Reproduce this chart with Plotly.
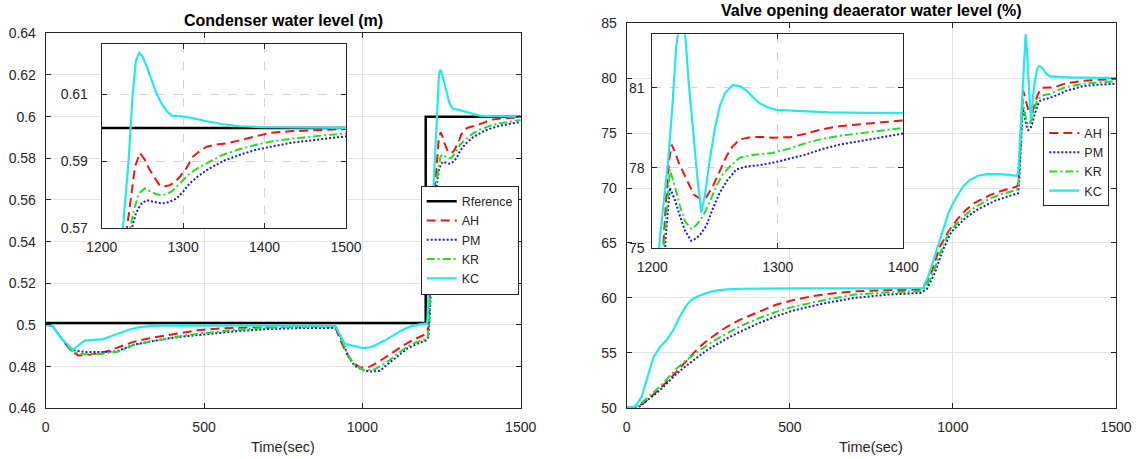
import plotly.graph_objects as go

# ---------------- DATA ----------------
# Condenser water level (m)
ref_t = [0, 1200, 1200, 1500]
ref_level = [0.501, 0.501, 0.6, 0.6]

cond_t_ah = [0, 20, 50, 80, 103, 125, 151, 180, 203, 240, 277, 330, 382, 430, 487, 550, 600, 700, 800, 900,
             913, 930, 950, 970, 992, 1010, 1024, 1050, 1077, 1105, 1130, 1160, 1193, 1203, 1209, 1215, 1220,
             1226, 1231, 1236, 1241, 1247, 1253, 1259, 1265, 1271, 1278, 1284, 1290, 1296, 1304, 1312, 1320,
             1329, 1340, 1353, 1368, 1382, 1406, 1431, 1465, 1500]
cond_ah = [0.5, 0.4998, 0.4935, 0.4875, 0.4854, 0.4855, 0.486, 0.4868, 0.4878, 0.4898, 0.4919, 0.4937, 0.4951,
           0.4964, 0.4976, 0.4983, 0.4987, 0.4992, 0.4995, 0.4996,
           0.4994, 0.493, 0.4862, 0.482, 0.4797, 0.4796, 0.48, 0.4822, 0.485, 0.4878, 0.4902, 0.4928, 0.4951,
           0.4965, 0.499, 0.52, 0.54, 0.558, 0.57, 0.58, 0.5885, 0.5925, 0.5905, 0.5874, 0.585, 0.5829, 0.5826,
           0.5829, 0.5838, 0.5854, 0.588, 0.5914, 0.593, 0.5944, 0.595, 0.5954, 0.5962, 0.597, 0.5985, 0.599,
           0.5994, 0.5997]

cond_t_pm = [0, 20, 50, 80, 98, 130, 172, 224, 250, 277, 330, 382, 430, 487, 550, 600, 698, 800, 900,
             918, 935, 955, 975, 1003, 1024, 1056, 1077, 1110, 1140, 1170, 1200, 1208, 1213, 1219, 1226, 1232,
             1237, 1242, 1248, 1255, 1262, 1268, 1274, 1282, 1292, 1300, 1308, 1318, 1329, 1349, 1370, 1390,
             1410, 1431, 1465, 1500]
cond_pm = [0.5, 0.4998, 0.4935, 0.488, 0.4876, 0.487, 0.487, 0.4873, 0.4888, 0.4905, 0.492, 0.4935, 0.4944,
           0.4951, 0.4962, 0.497, 0.498, 0.4985, 0.4988,
           0.4985, 0.4928, 0.4852, 0.4805, 0.4783, 0.4776, 0.478, 0.4808, 0.485, 0.4885, 0.4908, 0.4925, 0.494,
           0.505, 0.525, 0.548, 0.562, 0.57, 0.5745, 0.5772, 0.5784, 0.578, 0.5776, 0.5774, 0.5778, 0.5789,
           0.581, 0.5834, 0.5855, 0.5874, 0.5901, 0.592, 0.5935, 0.5945, 0.5955, 0.5965, 0.5975]

cond_t_kr = [0, 20, 50, 80, 103, 130, 172, 200, 224, 250, 277, 330, 382, 430, 487, 550, 600, 698, 800, 900,
             918, 935, 955, 975, 1003, 1035, 1055, 1077, 1110, 1140, 1170, 1200, 1207, 1212, 1218, 1224, 1230,
             1235, 1240, 1246, 1253, 1260, 1267, 1274, 1281, 1288, 1298, 1308, 1318, 1329, 1349, 1370, 1390,
             1410, 1431, 1465, 1500]
cond_kr = [0.5, 0.4998, 0.4935, 0.4878, 0.4862, 0.486, 0.4861, 0.4864, 0.487, 0.4885, 0.4903, 0.492, 0.4935,
           0.4947, 0.4959, 0.497, 0.4976, 0.4987, 0.499, 0.4992,
           0.4988, 0.493, 0.4855, 0.481, 0.4784, 0.4785, 0.48, 0.482, 0.486, 0.4894, 0.4917, 0.4932, 0.4945,
           0.505, 0.525, 0.545, 0.56, 0.57, 0.576, 0.5805, 0.5819, 0.581, 0.5802, 0.5799, 0.5803, 0.5814,
           0.5838, 0.5864, 0.588, 0.5895, 0.592, 0.5937, 0.595, 0.596, 0.5967, 0.5976, 0.5984]

cond_t_kc = [0, 20, 50, 87, 105, 124, 150, 182, 210, 235, 265, 298, 340, 400, 500, 700, 900,
             915, 930, 945, 961, 980, 1003, 1025, 1045, 1070, 1098, 1125, 1151, 1180, 1205, 1210, 1215, 1220,
             1226, 1233, 1238, 1242, 1246, 1250, 1255, 1261, 1267, 1274, 1280, 1286, 1298, 1310, 1320, 1329,
             1349, 1370, 1400, 1450, 1500]
cond_kc = [0.5, 0.4998, 0.4935, 0.4881, 0.4905, 0.4925, 0.4928, 0.4932, 0.4948, 0.496, 0.4978, 0.499, 0.4996,
           0.4998, 0.4998, 0.4998, 0.4998,
           0.4995, 0.495, 0.491, 0.4903, 0.4898, 0.4889, 0.4893, 0.4905, 0.4925, 0.4951, 0.4975, 0.4992,
           0.5003, 0.5008, 0.52, 0.54, 0.555, 0.57, 0.59, 0.61, 0.62, 0.6225, 0.6215, 0.6185, 0.6145, 0.6105,
           0.607, 0.605, 0.6037, 0.6035, 0.603, 0.6024, 0.602, 0.6011, 0.6005, 0.6002, 0.6, 0.6]

# Valve opening deaerator water level (%)
dea_t_ah = [0, 20, 31, 51, 75, 102, 128, 153, 180, 204, 230, 255, 280, 307, 350, 409, 460, 511, 560, 613, 700,
            800, 900, 915, 935, 960, 985, 1012, 1040, 1063, 1090, 1114, 1150, 1195, 1200, 1204, 1208, 1211,
            1213.5, 1215.4, 1218, 1221, 1227, 1233, 1239, 1243, 1248.4, 1254, 1259, 1264, 1269.6, 1277, 1286,
            1296, 1310, 1322, 1336, 1349, 1375, 1399, 1450, 1500]
dea_ah = [50, 50, 50.05, 50.4, 51.0, 51.75, 52.5, 53.27, 54.15, 54.95, 55.7, 56.3, 56.85, 57.37, 58.05, 58.8,
          59.4, 59.8, 60.1, 60.35, 60.6, 60.7, 60.75, 61.2, 62.4, 64.66, 66.0, 67.1, 68.0, 68.6, 69.0, 69.36,
          69.75, 70.12, 70.3, 72.0, 74.5, 76.8, 78.3, 78.87, 78.6, 78.2, 77.57, 77.0, 76.82, 76.9, 77.32, 77.9,
          78.43, 78.8, 79.06, 79.14, 79.16, 79.13, 79.15, 79.28, 79.45, 79.56, 79.66, 79.77, 79.86, 79.92]

dea_t_pm = [0, 25, 40, 51, 75, 102, 128, 153, 180, 204, 230, 255, 280, 307, 350, 409, 460, 511, 560, 613, 700,
            800, 900, 920, 945, 970, 995, 1012, 1040, 1073, 1100, 1130, 1170, 1200, 1204, 1208, 1211, 1214,
            1218, 1222, 1226, 1231, 1235, 1239, 1243, 1248, 1253.7, 1260, 1267, 1275, 1285, 1296, 1310, 1322.5,
            1335, 1349, 1375, 1399, 1450, 1500]
dea_pm = [50, 50, 50.1, 50.4, 50.95, 51.6, 52.35, 53.1, 53.75, 54.33, 54.9, 55.4, 55.85, 56.3, 56.95, 57.75,
          58.35, 58.85, 59.2, 59.55, 60.0, 60.3, 60.45, 60.8, 62.3, 64.4, 66.0, 66.48, 67.3, 68.0, 68.4, 68.85,
          69.25, 69.52, 71.0, 73.5, 75.6, 77.26, 76.8, 76.2, 75.65, 75.27, 75.36, 75.55, 75.83, 76.45, 77.07,
          77.55, 77.94, 78.05, 78.1, 78.19, 78.35, 78.5, 78.7, 78.87, 79.08, 79.28, 79.42, 79.5]

dea_t_kr = [0, 20, 35, 51, 75, 102, 128, 153, 180, 204, 230, 255, 280, 307, 350, 409, 460, 511, 560, 613, 700,
            800, 900, 918, 940, 965, 990, 1012, 1040, 1063, 1090, 1114, 1150, 1195, 1200, 1204, 1208, 1211,
            1214, 1218, 1222, 1226, 1231, 1235, 1240.5, 1246, 1251, 1256, 1262, 1269.6, 1280, 1296, 1310,
            1322.5, 1335, 1349, 1375, 1399, 1450, 1500]
dea_kr = [50, 50, 50.15, 50.54, 51.2, 51.9, 52.75, 53.58, 54.25, 54.8, 55.35, 55.86, 56.3, 56.77, 57.45, 58.2,
          58.75, 59.2, 59.5, 59.85, 60.3, 60.5, 60.62, 61.0, 62.3, 64.4, 66.1, 66.8, 67.6, 68.15, 68.65, 69.06,
          69.45, 69.82, 70.0, 71.8, 74.2, 76.3, 77.94, 77.3, 76.58, 76.0, 75.72, 75.85, 76.2, 76.75, 77.32,
          77.75, 78.06, 78.38, 78.48, 78.56, 78.73, 78.93, 79.08, 79.2, 79.36, 79.49, 79.62, 79.72]

dea_t_kc = [0, 15, 25, 35, 46, 56, 66, 82, 102, 123, 143, 163, 184, 200, 215, 235, 255, 280, 307, 350, 400,
            500, 700, 880, 909, 925, 940, 950, 960, 973, 986, 1000, 1012, 1030, 1052, 1075, 1104, 1144, 1170,
            1195, 1200, 1203, 1206, 1209.5, 1212.7, 1216, 1219, 1223, 1226.5, 1229, 1232.5, 1236, 1239, 1242,
            1245.8, 1250, 1253.7, 1258, 1264, 1270, 1275, 1280, 1285.5, 1292, 1298.7, 1320, 1341, 1370, 1399,
            1450, 1500]
dea_kc = [50, 50.02, 50.1, 50.5, 51.0, 52.0, 53.1, 54.6, 55.5, 56.2, 57.07, 58.3, 59.35, 59.85, 60.1, 60.35,
          60.55, 60.68, 60.77, 60.83, 60.85, 60.87, 60.87, 60.88, 60.9, 62.0, 63.44, 64.4, 65.26, 66.6, 67.7,
          68.6, 69.2, 70.1, 70.73, 71.1, 71.27, 71.27, 71.2, 71.12, 71.3, 73.0, 75.34, 76.8, 78.3, 80.3, 82.5,
          84.0, 82.8, 81.2, 79.3, 77.6, 76.33, 77.0, 78.3, 79.5, 80.3, 80.8, 81.1, 81.05, 80.9, 80.65, 80.42,
          80.27, 80.17, 80.12, 80.08, 80.06, 80.05, 80.02, 80.0]

# tick labels
cond_main_yticks = [0.46, 0.48, 0.5, 0.52, 0.54, 0.56, 0.58, 0.6, 0.62, 0.64]
cond_main_ylabels = ["0.46", "0.48", "0.5", "0.52", "0.54", "0.56", "0.58", "0.6", "0.62", "0.64"]
cond_inset_yticks = [0.57, 0.59, 0.61]
cond_inset_xticks = [1200, 1300, 1400, 1500]
dea_main_yticks = [50, 55, 60, 65, 70, 75, 80, 85]
dea_inset_yticks = [75, 78, 81]
dea_inset_xticks = [1200, 1300, 1400]
main_xticks = [0, 500, 1000, 1500]

# ---------------- STYLE ----------------
W, H = 1139, 459
FONT = "Liberation Sans, Arial, sans-serif"
TXT = "#262626"
series_style = {
    "AH": dict(color="#f01414", dash="9px,5px", width=2),
    "PM": dict(color="#1a1ad0", dash="2px,2px", width=2),
    "KR": dict(color="#22dd22", dash="8px,3px,2px,3px", width=2),
    "KC": dict(color="#22eaea", dash="solid", width=2.2),
}


def px(x):
    return x / W


def py(y):
    return 1 - y / H


fig = go.Figure()

cond_series = [("AH", cond_t_ah, cond_ah), ("PM", cond_t_pm, cond_pm),
               ("KR", cond_t_kr, cond_kr), ("KC", cond_t_kc, cond_kc)]
dea_series = [("AH", dea_t_ah, dea_ah), ("PM", dea_t_pm, dea_pm),
              ("KR", dea_t_kr, dea_kr), ("KC", dea_t_kc, dea_kc)]

# left main
fig.add_trace(go.Scatter(x=ref_t, y=ref_level, mode="lines", name="Rference",
                         line=dict(color="black", width=2.5), xaxis="x", yaxis="y", legend="legend"))
for name, t, v in cond_series:
    fig.add_trace(go.Scatter(x=t, y=v, mode="lines", name=name, line=series_style[name],
                             xaxis="x", yaxis="y", legend="legend"))
# left inset (reference after the step only)
fig.add_trace(go.Scatter(x=ref_t[2:], y=ref_level[2:], mode="lines", showlegend=False,
                         line=dict(color="black", width=2.5), xaxis="x2", yaxis="y2"))
for name, t, v in cond_series:
    fig.add_trace(go.Scatter(x=t, y=v, mode="lines", showlegend=False, line=series_style[name],
                             xaxis="x2", yaxis="y2"))
# right main
for name, t, v in dea_series:
    fig.add_trace(go.Scatter(x=t, y=v, mode="lines", name=name, line=series_style[name],
                             xaxis="x3", yaxis="y3", legend="legend2"))
# right inset
for name, t, v in dea_series:
    fig.add_trace(go.Scatter(x=t, y=v, mode="lines", showlegend=False, line=series_style[name],
                             xaxis="x4", yaxis="y4"))


def ax(domain, rng, ticks, anchor, grid_dash="solid", gridcolor="#e3e3e3", standoff=6, labels=None):
    d = dict(domain=domain, range=rng, tickvals=ticks, anchor=anchor, automargin=False,
             showline=True, linecolor=TXT, linewidth=1, mirror="ticks",
             ticks="inside", ticklen=5, tickcolor=TXT, tickwidth=1,
             showgrid=True, gridcolor=gridcolor, gridwidth=1, griddash=grid_dash,
             zeroline=False, tickfont=dict(family=FONT, size=14, color=TXT),
             ticklabelstandoff=standoff, fixedrange=True)
    if labels:
        d["ticktext"] = labels
    return d


# domains (pixel geometry)
L_main_x = [px(45.7), px(520.7)]
L_main_y = [py(408.3), py(33.3)]
L_ins_x = [px(101.7), px(346)]
L_ins_y = [py(228.3), py(44.3)]
R_main_x = [px(626.7), px(1116)]
R_main_y = [py(407.7), py(23.3)]
R_ins_x = [px(652.3), px(903.3)]
R_ins_y = [py(248.0), py(34.3)]

legend_common = dict(xanchor="left", yanchor="top", bgcolor="white", bordercolor=TXT, borderwidth=1,
                     font=dict(family=FONT, size=12.5, color=TXT), tracegroupgap=0, itemwidth=30)

fig.update_layout(
    template="none",
    width=W, height=H, margin=dict(l=0, r=0, t=0, b=0, autoexpand=False),
    paper_bgcolor="white", plot_bgcolor="white",
    font=dict(family=FONT, color=TXT),
    xaxis=ax(L_main_x, [0, 1500], main_xticks, "y"),
    yaxis=ax(L_main_y, [0.46, 0.64], cond_main_yticks, "x", labels=cond_main_ylabels),
    xaxis2=ax(L_ins_x, [1200, 1500], cond_inset_xticks, "y2", grid_dash="dash", gridcolor="#d4d4d4"),
    yaxis2=ax(L_ins_y, [0.57, 0.625], cond_inset_yticks, "x2", grid_dash="dash", gridcolor="#d4d4d4", standoff=10),
    xaxis3=ax(R_main_x, [0, 1500], main_xticks, "y3"),
    yaxis3=ax(R_main_y, [50, 85], dea_main_yticks, "x3"),
    xaxis4=ax(R_ins_x, [1200, 1400], dea_inset_xticks, "y4", grid_dash="dash", gridcolor="#d4d4d4"),
    yaxis4=ax(R_ins_y, [75, 83], dea_inset_yticks, "x4", grid_dash="dash", gridcolor="#d4d4d4", standoff=4),
    legend=dict(x=px(420.7), y=py(185.7), **legend_common),
    legend2=dict(x=px(1043.3), y=py(117.3), **legend_common),
    annotations=[
        dict(text="<b>Condenser water level (m)</b>", x=px(283), y=py(21), xref="paper", yref="paper",
             showarrow=False, xanchor="center", yanchor="middle", font=dict(family=FONT, size=16, color="black")),
        dict(text="<b>Valve opening deaerator water level (%)</b>", x=px(871.3), y=py(11), xref="paper",
             yref="paper", showarrow=False, xanchor="center", yanchor="middle",
             font=dict(family=FONT, size=16, color="black")),
        dict(text="Time(sec)", x=px(283), y=py(446.5), xref="paper", yref="paper", showarrow=False,
             xanchor="center", yanchor="middle", font=dict(family=FONT, size=14.5, color=TXT)),
        dict(text="Time(sec)", x=px(871.3), y=py(446.5), xref="paper", yref="paper", showarrow=False,
             xanchor="center", yanchor="middle", font=dict(family=FONT, size=14.5, color=TXT)),
    ],
)

fig.write_html("out.html", config={"displayModeBar": False, "staticPlot": True},
               post_script="document.body.style.margin='0px';document.body.style.overflow='hidden';")
